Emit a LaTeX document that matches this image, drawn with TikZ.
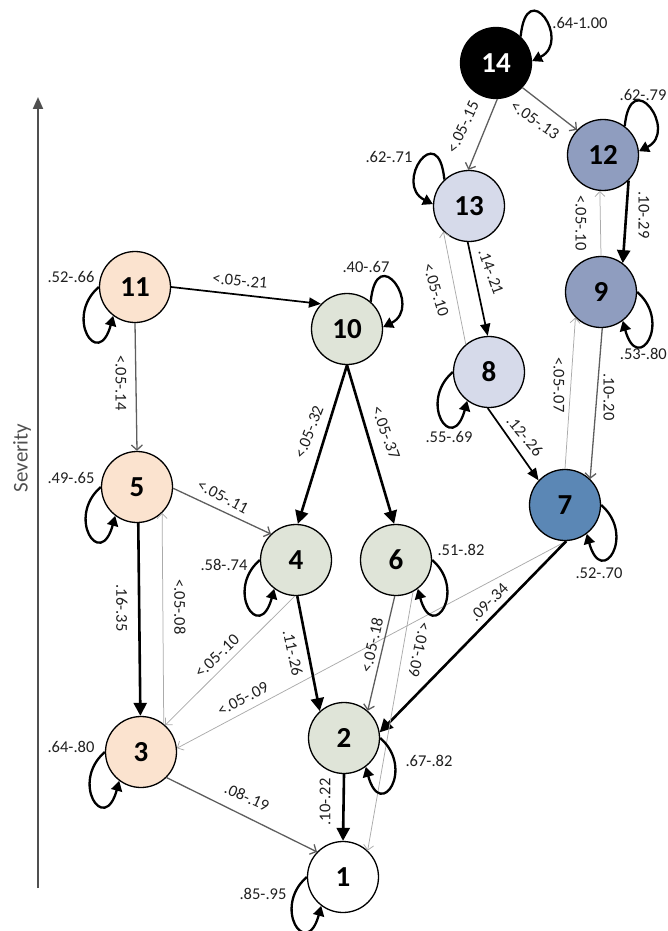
\documentclass[tikz,border=0pt]{standalone}
\usepackage{fontspec}
\setmainfont{Carlito}
\usetikzlibrary{arrows.meta}

\definecolor{peach}{HTML}{FBE3CF}
\definecolor{sage}{HTML}{DFE4D8}
\definecolor{lilac}{HTML}{D6DAEA}
\definecolor{slate}{HTML}{8F9DBF}
\definecolor{steel}{HTML}{5B87B5}
\definecolor{midgray}{HTML}{5E5E5E}
\definecolor{palegray}{HTML}{ABABAB}
\definecolor{axisgray}{HTML}{505050}

\tikzset{
  stt/.style={circle, draw=black, line width=1.3pt, minimum size=71pt, inner sep=0pt,
    font=\fontsize{29}{29}\selectfont\bfseries},
  lbl/.style={font=\fontsize{16.5}{16.5}\selectfont, inner sep=0pt, text=black!88},
  heavy/.style={draw=black, line width=2.6pt, -{Triangle[length=13pt,width=13pt]}},
  medium/.style={draw=black, line width=1.7pt, -{Triangle[length=12pt,width=10pt]}},
  greyedge/.style={draw=midgray, line width=1.3pt, -{Straight Barb[length=5pt,width=11pt]}},
  faint/.style={draw=palegray, line width=0.75pt, -{Straight Barb[length=5pt,width=10pt]}},
  loopline/.style={draw=black, line width=2.3pt, -{Triangle[length=10pt,width=11pt]}},
  axisline/.style={draw=axisgray, line width=2pt, -{Triangle[length=12pt,width=10pt]}}
}

\begin{document}
\begin{tikzpicture}[x=1pt,y=-1pt]
\useasboundingbox (0,0) rectangle (668,931);

% severity axis
\coordinate (axbot) at (38,888);
\coordinate (axtop) at (38,97);
\draw[axisline] (axbot) -- (axtop);
\node[font=\fontsize{21}{21}\selectfont, text=axisgray, rotate=90] (sev) at (22,458) {Severity};

% states
\node[stt, fill=black, text=white] (n14) at (496,63) {14};
\node[stt, fill=slate] (n12) at (603,155) {12};
\node[stt, fill=lilac] (n13) at (469,206) {13};
\node[stt, fill=slate] (n9) at (601,292) {9};
\node[stt, fill=peach] (n11) at (135,287) {11};
\node[stt, fill=sage] (n10) at (347,329) {10};
\node[stt, fill=lilac] (n8) at (489,372) {8};
\node[stt, fill=peach] (n5) at (137,487) {5};
\node[stt, fill=steel] (n7) at (565,505) {7};
\node[stt, fill=sage] (n4) at (296,560) {4};
\node[stt, fill=sage] (n6) at (396,560) {6};
\node[stt, fill=peach] (n3) at (141,752) {3};
\node[stt, fill=sage] (n2) at (344,738) {2};
\node[stt, fill=white] (n1) at (343,877) {1};

% transitions between states
\draw[greyedge] (n14.-88) -- (n13.91);
\draw[greyedge] (n14.-43) -- (n12.136);
\draw[heavy] (n12.-45) -- (n9.53);
\draw[faint] (n9.90) -- (n12.-95);
\draw[greyedge] (n9.-88) -- (n7.46);
\draw[faint] (n7.90) -- (n9.-135);
\draw[medium] (n13.-92) -- (n8.92);
\draw[faint] (n8.130) -- (n13.-135);
\draw[medium] (n8.-92) -- (n7.137);
\draw[faint] (n7.-88) -- (n3.6);
\draw[heavy] (n7.-88) -- (n2.9);
\draw[medium] (n11.0) -- (n10.136);
\draw[greyedge] (n11.-90) -- (n5.90);
\draw[heavy] (n10.-90) -- (n4.87);
\draw[heavy] (n10.-90) -- (n6.93);
\draw[greyedge] (n5.-2) -- (n4.134);
\draw[heavy] (n5.-88) -- (n3.91);
\draw[faint] (n3.51) -- (n5.-46);
\draw[faint] (n4.-92) -- (n3.48);
\draw[heavy] (n4.-88) -- (n2.132);
\draw[greyedge] (n6.-92) -- (n2.49);
\draw[faint] (n6.-62) -- (n1.47);
\draw[greyedge] (n3.-45) -- (n1.136);
\draw[heavy] (n2.-90) -- (n1.90);

% self transitions
\draw[loopline] (n14.47) .. controls +(6,-62) and +(40,-20) .. (n14.3);
\draw[loopline] (n12.53) .. controls +(6,-62) and +(40,-20) .. (n12.6);
\draw[loopline] (n10.49) .. controls +(6,-62) and +(40,-20) .. (n10.3);
\draw[loopline] (n13.133) .. controls +(-6,-62) and +(-40,-20) .. (n13.177);
\foreach \s in {n11,n5,n4,n3,n8,n1}
  \draw[loopline] (\s.180) .. controls +(-35,30) and +(-15,55) .. (\s.-127);
\foreach \s in {n9,n7,n6,n2}
  \draw[loopline] (\s.0) .. controls +(35,30) and +(15,55) .. (\s.-53);

% probability ranges
\node[lbl] (l14) at (580,23) {.64-1.00};
\node[lbl, rotate=65] (l14x13) at (463,127) {<.05-.15};
\node[lbl, rotate=-35] (l14x12) at (535,120) {<.05-.13};
\node[lbl] (l12) at (643,95) {.62-.79};
\node[lbl, rotate=-90] (l12x9) at (644,215) {.10-.29};
\node[lbl, rotate=-90] (l9x12) at (581,223) {<.05-.10};
\node[lbl, anchor=east] (l9) at (667,354) {.53-.80};
\node[lbl, rotate=-90] (l9x7) at (609,397) {.10-.20};
\node[lbl, rotate=-90] (l7x9) at (559,385) {<.05-.07};
\node[lbl] (l13) at (389,157) {.62-.71};
\node[lbl, rotate=-70] (l13x8) at (491,272) {.14-.21};
\node[lbl, rotate=-73] (l8x13) at (436,290) {<.05-.10};
\node[lbl] (l8) at (449,437) {.55-.69};
\node[lbl, rotate=-50] (l8x7) at (525,436) {.12-.26};
\node[lbl] (l7) at (599,573) {.52-.70};
\node[lbl, rotate=45] (l7x2) at (489,602) {.09-.34};
\node[lbl, rotate=28] (l7x3) at (243,699) {<.05-.09};
\node[lbl] (l11) at (71,277) {.52-.66};
\node[lbl, rotate=-5] (l11x10) at (240,281) {<.05-.21};
\node[lbl, rotate=-90] (l11x5) at (121,383) {<.05-.14};
\node[lbl] (l10) at (366,267) {.40-.67};
\node[lbl, rotate=69] (l10x4) at (309,432) {<.05-.32};
\node[lbl, rotate=-70] (l10x6) at (386,433) {<.05-.37};
\node[lbl] (l5) at (71,478) {.49-.65};
\node[lbl, rotate=-28] (l5x4) at (223,497) {<.05-.11};
\node[lbl] (l4) at (224,565) {.58-.74};
\node[lbl] (l6) at (461,550) {.51-.82};
\node[lbl, rotate=-90] (l5x3) at (122,608) {.16-.35};
\node[lbl, rotate=-90] (l3x5) at (180,607) {<.05-.08};
\node[lbl, rotate=44] (l4x3) at (217,656) {<.05-.10};
\node[lbl, rotate=-78] (l4x2) at (293,653) {.11-.26};
\node[lbl, rotate=77] (l6x2) at (372,645) {<.05-.18};
\node[lbl, rotate=-102] (l6x1) at (419,650) {<.01-.09};
\node[lbl] (l3) at (71,747) {.64-.80};
\node[lbl] (l2) at (429,761) {.67-.82};
\node[lbl, rotate=90] (l2x1) at (325,802) {.10-.22};
\node[lbl, rotate=-24] (l3x1) at (247,797) {.08-.19};
\node[lbl] (l1) at (263,894) {.85-.95};
\end{tikzpicture}
\end{document}
